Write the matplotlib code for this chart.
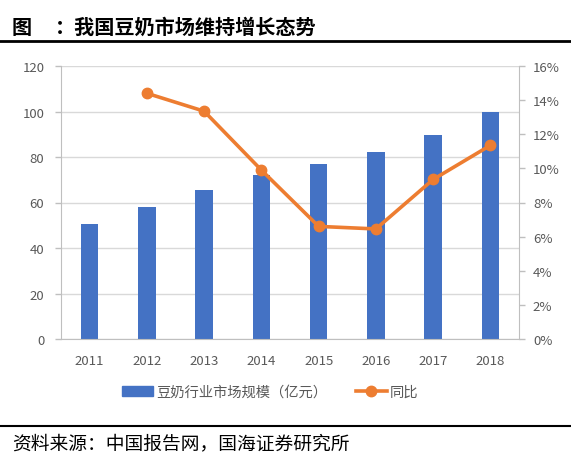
import matplotlib
matplotlib.use("Agg")
import matplotlib.pyplot as plt
from matplotlib.lines import Line2D
from matplotlib.patches import Patch
from matplotlib.ticker import FuncFormatter

plt.rcParams['font.family'] = ['Noto Sans CJK SC', 'DejaVu Sans']

# 数据
years = ['2011', '2012', '2013', '2014', '2015', '2016', '2017', '2018']
market_size = [50.5, 58.0, 65.6, 72.2, 77.0, 82.0, 89.8, 100.0]
yoy_years = ['2012', '2013', '2014', '2015', '2016', '2017', '2018']
yoy = [14.4, 13.35, 9.9, 6.6, 6.45, 9.35, 11.35]

BLUE = '#4472C4'
ORANGE = '#ED7D31'
GRID = '#D9D9D9'
TXT = '#595959'

fig = plt.figure(figsize=(5.71, 4.56), dpi=100)
ax = fig.add_axes([61 / 571, 1 - 340 / 456, 458 / 571, 273 / 456])
ax2 = ax.twinx()

x = list(range(len(years)))
ax.bar(x, market_size, width=0.31, color=BLUE, zorder=2)
ax.set_xlim(-0.5, len(years) - 0.5)
ax.set_ylim(0, 120)
ax.set_yticks(range(0, 121, 20))
ax.set_xticks(x)
ax.set_xticklabels(years)
ax.grid(axis='y', color=GRID, lw=1, zorder=0)
ax.set_axisbelow(True)

xi = [years.index(y) for y in yoy_years]
ax2.plot(xi, yoy, color=ORANGE, lw=2.6, marker='o', ms=7.5, zorder=3)
ax2.set_ylim(0, 16)
ax2.set_yticks(range(0, 17, 2))
ax2.yaxis.set_major_formatter(FuncFormatter(lambda v, p: f'{int(v)}%'))

for a in (ax, ax2):
    a.spines['top'].set_visible(False)
    for s in ('left', 'right', 'bottom'):
        a.spines[s].set_color('#BFBFBF')
    a.tick_params(colors=TXT, labelsize=9.5, length=4, width=1)
    a.tick_params(axis='y', color='#BFBFBF')
ax.tick_params(axis='x', length=0, pad=11)
ax.tick_params(axis='y', pad=8)
ax2.tick_params(axis='y', pad=6)
ax.spines['right'].set_visible(False)
ax2.spines['left'].set_visible(False)
ax2.spines['bottom'].set_visible(False)

handles = [Patch(color=BLUE), Line2D([], [], color=ORANGE, lw=2.6, marker='o', ms=7.5)]
labels = ['豆奶行业市场规模（亿元）', '同比']
fig.legend(handles, labels, loc='center', bbox_to_anchor=(270 / 571, 1 - 393 / 456),
           ncol=2, frameon=False, fontsize=10.3, labelcolor=TXT, handlelength=2.2,
           handletextpad=0.2, columnspacing=2.0)

# 标题与来源
fig.text(12 / 571, 1 - 27 / 456, '图', fontsize=14.5,
         fontweight='bold', va='center', ha='left')
fig.text(55 / 571, 1 - 27 / 456, '：我国豆奶市场维持增长态势', fontsize=14.5,
         fontweight='bold', va='center', ha='left')
fig.add_artist(Line2D([0, 1], [1 - 42 / 456] * 2, color='black', lw=2))
fig.add_artist(Line2D([0, 1], [1 - 427 / 456] * 2, color='black', lw=1.5))
fig.text(12 / 571, 1 - 444 / 456, '资料来源：中国报告网，国海证券研究所', fontsize=13.5,
         va='center', ha='left')

fig.savefig('out.png', dpi=100)
